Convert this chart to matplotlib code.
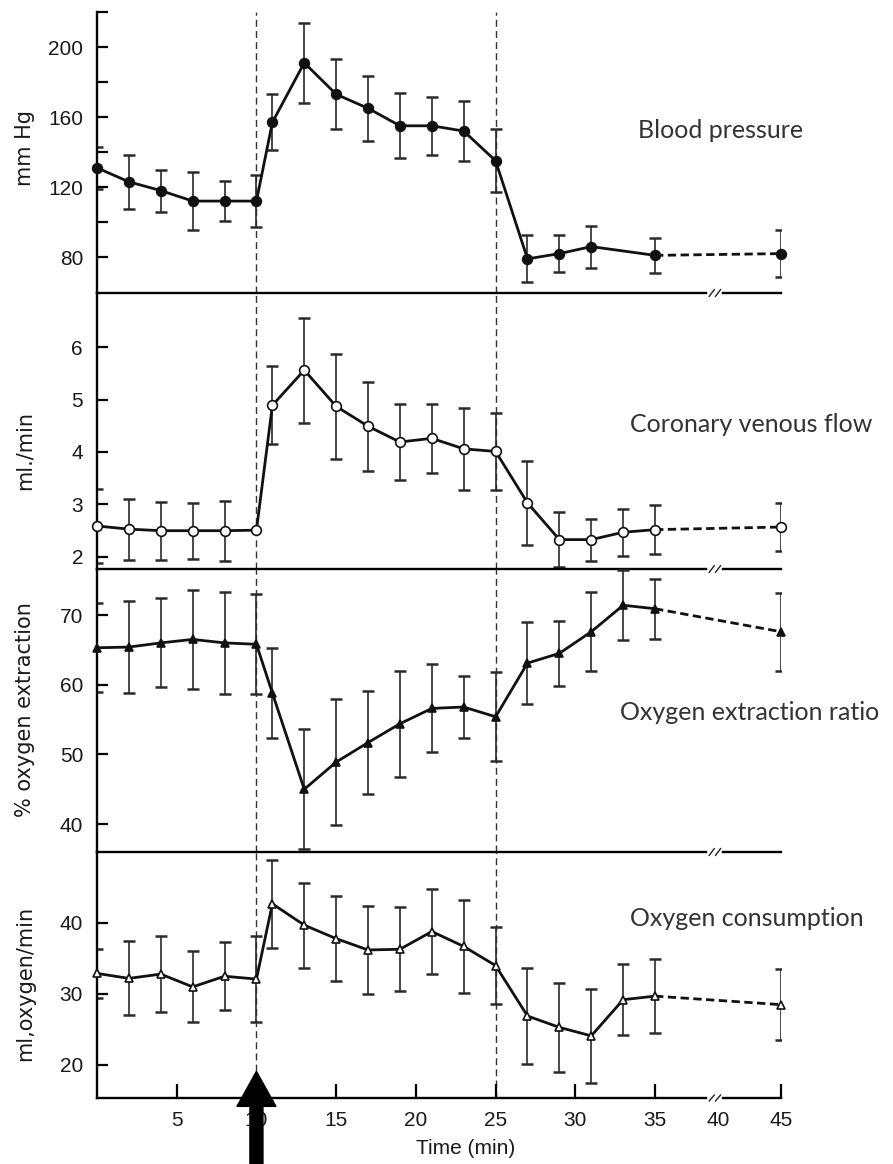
import numpy as np
import matplotlib.pyplot as plt
from matplotlib.patches import FancyArrow
from matplotlib.transforms import IdentityTransform

# time points (min)
time = [0, 2, 4, 6, 8, 10, 11, 13, 15, 17, 19, 21, 23, 25, 27, 29, 31, 33, 35, 45]
bp_time = [0, 2, 4, 6, 8, 10, 11, 13, 15, 17, 19, 21, 23, 25, 27, 29, 31, 35, 45]

# blood pressure (mm Hg)
bp = [131, 123, 118, 112, 112, 112, 157, 191, 173, 165, 155, 155, 152, 135, 79, 82, 86, 81, 82]
bp_err = [12, 15.5, 12, 16.5, 11.5, 15, 16, 23, 20, 18.5, 18.5, 16.5, 17, 18, 13.5, 10.5, 12, 10, 13.5]

# coronary venous flow (ml/min)
cvf = [2.59, 2.53, 2.50, 2.50, 2.50, 2.51, 4.89, 5.56, 4.87, 4.49, 4.19, 4.26, 4.06, 4.01,
       3.03, 2.33, 2.33, 2.47, 2.52, 2.57]
cvf_err = [0.7, 0.58, 0.55, 0.53, 0.57, np.nan, 0.74, 1.0, 1.0, 0.85, 0.72, 0.66, 0.78, 0.74,
           0.8, 0.52, 0.4, 0.45, 0.47, 0.46]

# oxygen extraction (%)
o2ext = [65.3, 65.4, 66.0, 66.5, 66.0, 65.8, 58.8, 45.0, 48.9, 51.7, 54.4, 56.6, 56.8, 55.4,
         63.1, 64.5, 67.6, 71.4, 70.9, 67.6]
o2ext_err = [6.4, 6.6, 6.4, 7.1, 7.3, 7.2, 6.4, 8.6, 9.0, 7.4, 7.6, 6.3, 4.5, 6.4,
             5.9, 4.7, 5.7, 5.0, 4.3, 5.6]

# oxygen consumption (ml oxygen/min)
o2con = [32.9, 32.2, 32.8, 31.0, 32.5, 32.1, 42.7, 39.7, 37.8, 36.2, 36.3, 38.8, 36.7, 34.0,
         26.9, 25.3, 24.1, 29.2, 29.7, 28.5]
o2con_err = [3.5, 5.2, 5.3, 5.0, 4.8, 6.0, 6.2, 6.0, 6.0, 6.2, 5.9, 6.0, 6.5, 5.4,
             6.8, 6.3, 6.6, 5.0, 5.2, 5.0]

xticks = [5, 10, 15, 20, 25, 30, 35, 40, 45]


def fwd(t):
    t = np.asarray(t, dtype=float)
    return np.where(t <= 35, t, 35 + (t - 35) * 0.79)


def inv(u):
    u = np.asarray(u, dtype=float)
    return np.where(u <= 35, u, 35 + (u - 35) / 0.79)


W, H = 893, 1164
fig = plt.figure(figsize=(W / 100, H / 100), dpi=100)

tick_font = dict(family='Liberation Sans', size=15, color='#1a1a1a')
label_font = dict(family='DejaVu Sans', size=15, color='#1a1a1a')
note_font = dict(family='Lato', size=18, color='#333333')

# panel extents in image pixels (top, bottom)
left_px, right_px = 97, 781
panels = [(12, 293), (293, 569), (569, 852), (852, 1098)]
ylims = [(59.5, 220), (1.77, 7.03), (36, 76.6), (15.35, 50)]
yticks = [[80, 120, 160, 200], [2, 3, 4, 5, 6], [40, 50, 60, 70], [20, 30, 40]]

axes = []
for (top, bot), yl, yt in zip(panels, ylims, yticks):
    ax = fig.add_axes([left_px / W, 1 - bot / H, (right_px - left_px) / W, (bot - top) / H])
    ax.set_xscale('function', functions=(fwd, inv))
    ax.set_xlim(0, 45)
    ax.set_ylim(*yl)
    ax.set_yticks(yt)
    ax.set_yticklabels([str(v) for v in yt], fontdict=tick_font)
    ax.spines['top'].set_visible(False)
    ax.spines['right'].set_visible(False)
    ax.spines['left'].set_linewidth(1.7)
    ax.spines['bottom'].set_linewidth(1.7)
    ax.tick_params(axis='y', direction='in', length=8, width=1.6, pad=10)
    ax.patch.set_alpha(0)
    # break marks on the horizontal line
    xt = ax.get_xaxis_transform()
    ax.plot([39.4, 40.1], [0, 0], color='white', lw=4, transform=xt, clip_on=False, zorder=5)
    ax.plot([39.3, 39.7], [-0.012, 0.012], color='#222', lw=1, transform=xt, clip_on=False, zorder=6)
    ax.plot([39.8, 40.2], [-0.012, 0.012], color='#222', lw=1, transform=xt, clip_on=False, zorder=6)
    axes.append(ax)

ax1, ax2, ax3, ax4 = axes
ax1.set_yticks([100, 140, 180, 220], minor=True)
ax1.tick_params(axis='y', which='minor', direction='in', length=8, width=1.6)

for ax in axes[:3]:
    ax.set_xticks([])
ax4.set_xticks(xticks)
ax4.set_xticklabels([str(v) for v in xticks], fontdict=tick_font)
ax4.tick_params(axis='x', direction='in', length=10, width=1.6, pad=9)
ax4.xaxis.get_major_ticks()[xticks.index(40)].tick1line.set_visible(False)
fig.text(466 / W, 1 - 1148 / H, 'Time (min)', ha='center', va='center',
         family='Liberation Sans', size=15, color='#1a1a1a')

# dashed event lines
dash = dict(color='#333333', lw=1.0, dashes=(5, 3))
for ax in axes[:3]:
    ax.axvline(10, **dash, zorder=1)
    ax.axvline(25, **dash, zorder=1)
ax4.plot([10, 10], [19.1, 50], **dash, zorder=1)
ax4.axvline(25, **dash, zorder=1)

err_style = dict(ecolor='#2a2a2a', elinewidth=1.2, capsize=4, capthick=1.8, fmt='none', zorder=2)


def draw_series(ax, t, v, e, marker, ms, mfc):
    t = np.asarray(t)
    v = np.asarray(v)
    solid = t <= 35
    dashed = t >= 35
    ax.errorbar(t, v, yerr=e, **err_style)
    ax.plot(t[solid], v[solid], color='#111111', lw=2.0, zorder=3)
    ax.plot(t[dashed], v[dashed], color='#111111', lw=2.0, dashes=(3, 1.6), zorder=3)
    ax.plot(t, v, ls='none', marker=marker, ms=ms, mfc=mfc, mec='#111111', mew=1.2, zorder=4,
            clip_on=False)


draw_series(ax1, bp_time, bp, bp_err, 'o', 7, '#111111')
draw_series(ax2, time, cvf, cvf_err, 'o', 7, 'white')
draw_series(ax3, time, o2ext, o2ext_err, '^', 5.5, '#111111')
draw_series(ax4, time, o2con, o2con_err, '^', 5.5, 'white')

# y axis labels
ylabels = [('mm Hg', 148), ('ml./min', 450), ('% oxygen extraction', 710), ('ml,oxygen/min', 983)]
for txt, yc in ylabels:
    fig.text(25 / W, 1 - yc / H, txt, rotation=90, ha='center', va='center', **label_font)

# panel notes
notes = [('Blood pressure', 638, 131), ('Coronary venous flow', 630, 425),
         ('Oxygen extraction ratio', 620, 712), ('Oxygen consumption', 630, 918)]
for txt, xp, yp in notes:
    fig.text(xp / W, 1 - yp / H, txt, ha='left', va='center', **note_font)

# big arrow marking t = 10 min
fig.canvas.draw()
x_arrow = ax4.transData.transform((10, 20))[0]
y_tip = ax4.transData.transform((10, 19.1))[1]
arrow = FancyArrow(x_arrow, -5, 0, y_tip + 5, width=13, head_width=39, head_length=35,
                   length_includes_head=True, color='black', transform=IdentityTransform(),
                   zorder=10)
fig.add_artist(arrow)

fig.savefig('out.png', dpi=100)
